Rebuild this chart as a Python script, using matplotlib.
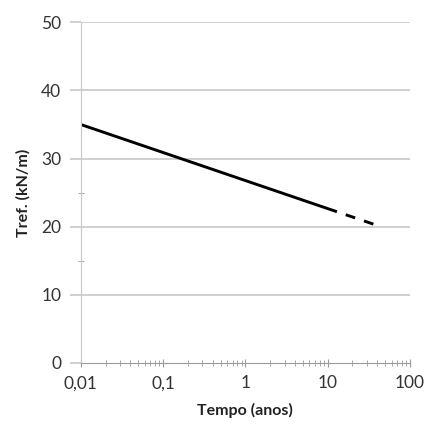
import matplotlib.pyplot as plt
from matplotlib.ticker import LogLocator, FixedLocator

# measured curve: solid part then dashed extrapolation
t_solid = [0.01, 13]
T_solid = [35.0, 22.2]
t_dash = [13, 40]
T_dash = [22.2, 20.2]

xticks = [0.01, 0.1, 1, 10, 100]
xlabels = ['0,01', '0,1', '1', '10', '100']
yticks = [0, 10, 20, 30, 40, 50]

plt.rcParams['font.family'] = ['Lato', 'DejaVu Sans']

fig = plt.figure(figsize=(4.3, 4.34), dpi=100)
ax = fig.add_axes([0.188, 0.1636, 0.765, 0.785])

grid_c = '#c8c8c8'
ax.plot(t_solid, T_solid, color='black', lw=2.1, solid_capstyle='butt')
# starts with a gap after the solid part
ax.plot(t_dash, T_dash, color='black', lw=2.1,
        linestyle=(3.4, (3.4, 3.2)), dash_capstyle='butt')

ax.set_xscale('log')
ax.set_xlim(0.01, 100)
ax.set_ylim(0, 50)
ax.set_xticks(xticks)
ax.set_xticklabels(xlabels)
ax.set_yticks(yticks)
ax.xaxis.set_minor_locator(LogLocator(base=10, subs=range(2, 10)))
ax.yaxis.set_minor_locator(FixedLocator([15, 25]))

for y in yticks[1:]:
    ax.axhline(y, color=grid_c, lw=1.2, zorder=0)

for s in ['top', 'right']:
    ax.spines[s].set_visible(False)
ax.spines['left'].set_color(grid_c)
ax.spines['bottom'].set_color('#9a9a9a')

ax.tick_params(axis='y', which='major', length=8, color=grid_c, width=1.2,
               labelsize=12.5, labelcolor='#333333', pad=6)
ax.tick_params(axis='y', which='minor', length=4, direction='inout', color='#999999')
ax.tick_params(axis='x', which='major', length=6, direction='inout', color='#9a9a9a',
               labelsize=12.5, labelcolor='#333333', pad=6)
ax.tick_params(axis='x', which='minor', length=5, direction='inout', color='#9a9a9a')

ax.set_xlabel('Tempo (anos)', fontsize=11.5, fontweight='bold', color='#222222', labelpad=8)
ax.set_ylabel('Tref. (kN/m)', fontsize=11.5, fontweight='bold', color='#222222', labelpad=8)

fig.savefig('out.png', dpi=100)
